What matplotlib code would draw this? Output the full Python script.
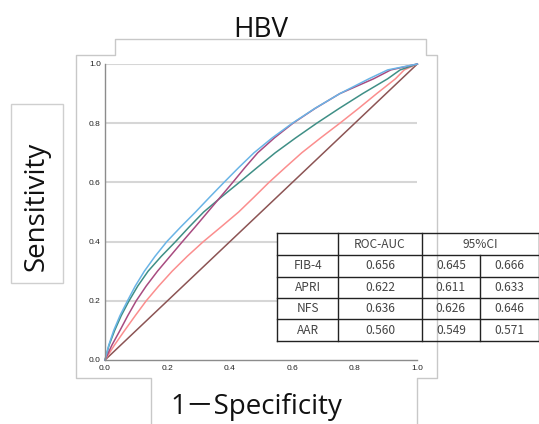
import matplotlib
matplotlib.use("Agg")
import matplotlib.pyplot as plt
from matplotlib.patches import Rectangle

# ---------------- data ----------------
title = "HBV"
xlabel = "1－Specificity"
ylabel = "Sensitivity"

tpr_levels = [0, 0.05, 0.10, 0.15, 0.20, 0.25, 0.30, 0.35, 0.40, 0.45, 0.50,
              0.55, 0.60, 0.65, 0.70, 0.75, 0.80, 0.85, 0.90, 0.95, 0.98, 1.0]

fib4_fpr = [0, 0.012, 0.028, 0.048, 0.072, 0.097, 0.126, 0.160, 0.198, 0.243, 0.290,
            0.335, 0.381, 0.428, 0.477, 0.535, 0.600, 0.672, 0.752, 0.845, 0.905, 1.0]
nfs_fpr = [0, 0.013, 0.031, 0.052, 0.077, 0.105, 0.138, 0.180, 0.226, 0.270, 0.316,
           0.372, 0.430, 0.487, 0.545, 0.610, 0.678, 0.750, 0.825, 0.905, 0.945, 1.0]
apri_fpr = [0, 0.022, 0.048, 0.073, 0.100, 0.132, 0.168, 0.208, 0.248, 0.289, 0.329,
            0.369, 0.409, 0.448, 0.489, 0.542, 0.602, 0.673, 0.752, 0.860, 0.915, 1.0]
aar_fpr = [0, 0.030, 0.063, 0.097, 0.132, 0.172, 0.215, 0.263, 0.315, 0.372, 0.428,
           0.477, 0.525, 0.577, 0.630, 0.690, 0.752, 0.812, 0.870, 0.930, 0.958, 1.0]

ref_fpr = [0, 1.0]
ref_tpr = [0, 1.0]

ticks = [0.0, 0.2, 0.4, 0.6, 0.8, 1.0]
tick_labels = ["0.0", "0.2", "0.4", "0.6", "0.8", "1.0"]

table_header = ["", "ROC-AUC", "95%CI"]
table_names = ["FIB-4", "APRI", "NFS", "AAR"]
table_auc = ["0.656", "0.622", "0.636", "0.560"]
table_ci_low = ["0.645", "0.611", "0.626", "0.549"]
table_ci_high = ["0.666", "0.633", "0.646", "0.571"]

# ---------------- figure ----------------
W, H = 539, 424
fig = plt.figure(figsize=(W / 100, H / 100), dpi=100)
fig.patch.set_facecolor("white")

def fx(px):
    return px / W

def fy(py):
    return 1 - py / H

left, right, top, bottom = 105, 417.3, 64, 360
ax = fig.add_axes([fx(left), fy(bottom), fx(right) - fx(left), fy(top) - fy(bottom)])
ax.set_facecolor("none")
ax.set_xlim(0, 1)
ax.set_ylim(0, 1)

for y in ticks[1:]:
    ax.axhline(y, color="#d6d6d6", lw=1.5, zorder=0)

series = [
    (ref_fpr, ref_tpr, "#8c5454"),
    (aar_fpr, tpr_levels, "#fb8e8e"),
    (nfs_fpr, tpr_levels, "#3f8f86"),
    (apri_fpr, tpr_levels, "#a84b80"),
    (fib4_fpr, tpr_levels, "#6ab4e6"),
]
for xs, ys, c in series:
    ax.plot(xs, ys, color=c, lw=1.1, clip_on=False, zorder=2)

for s in ["top", "right"]:
    ax.spines[s].set_visible(False)
for s in ["left", "bottom"]:
    ax.spines[s].set_color("#8c8c8c")
    ax.spines[s].set_linewidth(1.0)

ax.set_xticks(ticks)
ax.set_xticklabels(tick_labels)
ax.set_yticks(ticks)
ax.set_yticklabels(tick_labels)
ax.tick_params(length=0, labelsize=6, labelcolor="#222222")
ax.tick_params(axis="x", pad=3.5)
ax.tick_params(axis="y", pad=3)
for lab in ax.get_xticklabels() + ax.get_yticklabels():
    lab.set_family("Liberation Sans")

# ---------------- overlay (pixel coords) ----------------
ov = fig.add_axes([0, 0, 1, 1], zorder=5)
ov.set_xlim(0, W)
ov.set_ylim(H, 0)
ov.axis("off")
ov.set_facecolor("none")

frame_x = [151, 151, 76, 76, 115, 115, 426, 426, 437, 437, 417, 417]
frame_y = [424, 378, 378, 55, 55, 39, 39, 55, 55, 378, 378, 424]
ov.plot(frame_x, frame_y, color="#c8c8c8", lw=1.0)

ov.add_patch(Rectangle((11, 104), 52, 179, fill=False, ec="#cfcfcf", lw=1.0))

ov.text(261, 37, title, fontsize=20, family=["Open Sans", "DejaVu Sans"],
        ha="center", va="baseline", color="#111111")
ov.text(37, 206, ylabel, fontsize=20, family=["Open Sans", "DejaVu Sans"],
        ha="center", va="center", rotation=90, color="#111111")
ov.text(256, 414, xlabel, fontsize=20, family=["Open Sans", "Noto Sans CJK JP", "DejaVu Sans"],
        ha="center", va="baseline", color="#111111")

# table
col_x = [277.3, 338.3, 421.7, 480.0, 538.5]
row_y = [233.3, 255.0, 276.6, 298.0, 319.4, 341.0]
ov.add_patch(Rectangle((col_x[0], row_y[0]), col_x[-1] - col_x[0], row_y[-1] - row_y[0],
                       facecolor="white", edgecolor="none", zorder=1))
lc = "#222222"
for y in row_y:
    ov.plot([col_x[0], col_x[-1]], [y, y], color=lc, lw=1.0, zorder=2)
for i, x in enumerate(col_x):
    y0 = row_y[1] if i == 3 else row_y[0]
    ov.plot([x, x], [y0, row_y[-1]], color=lc, lw=1.0, zorder=2)

tfont = dict(fontsize=8.6, family=["Noto Sans CJK JP", "DejaVu Sans"], color="#444444",
             ha="center", va="center", zorder=3)
cx = [(col_x[i] + col_x[i + 1]) / 2 for i in range(4)]
cy = [(row_y[i] + row_y[i + 1]) / 2 for i in range(5)]
ov.text(cx[1], cy[0], table_header[1], **tfont)
ov.text(col_x[3], cy[0], table_header[2], **tfont)
for r in range(4):
    ov.text(cx[0], cy[r + 1], table_names[r], **tfont)
    ov.text(cx[1], cy[r + 1], table_auc[r], **tfont)
    ov.text(cx[2], cy[r + 1], table_ci_low[r], **tfont)
    ov.text(cx[3], cy[r + 1], table_ci_high[r], **tfont)

fig.savefig("out.png", dpi=100)
